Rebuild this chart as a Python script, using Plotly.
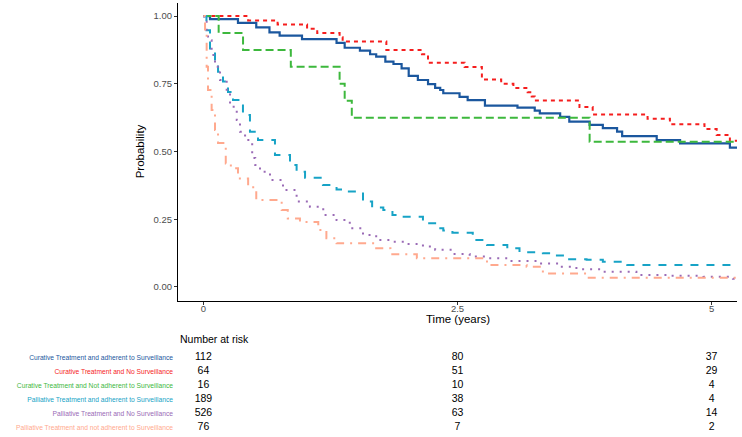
import plotly.graph_objects as go

# ---------------- data ----------------
groups = [
    "Curative Treatment and adherent to Surveillance",
    "Curative Treatment and No Surveillance",
    "Curative Treatment and Not adherent to Surveillance",
    "Palliative Treatment and adherent to Surveillance",
    "Palliative Treatment and No Surveillance",
    "Palliative Treatment and not adherent to Surveillance",
]

t_cur_adh = [0, 0.065, 0.34, 0.52, 0.65, 0.75, 0.97, 1.31, 1.39, 1.54, 1.64, 1.70, 1.79, 1.87, 1.95, 2.02,
             2.11, 2.21, 2.28, 2.33, 2.36, 2.52, 2.60, 2.77, 3.09, 3.26, 3.31, 3.51, 3.60, 3.80, 3.93,
             4.07, 4.12, 4.46, 4.69, 5.18, 5.30]
s_cur_adh = [1.0, 0.989, 0.975, 0.958, 0.940, 0.928, 0.915, 0.901, 0.883, 0.872, 0.859, 0.850, 0.832, 0.823,
             0.807, 0.779, 0.764, 0.749, 0.735, 0.727, 0.715, 0.702, 0.690, 0.669, 0.662, 0.651, 0.641,
             0.628, 0.610, 0.598, 0.586, 0.573, 0.557, 0.542, 0.530, 0.514, 0.514]

t_cur_no = [0, 0.44, 0.73, 1.02, 1.12, 1.34, 1.37, 1.80, 2.15, 2.21, 2.57, 2.74, 2.93, 3.05, 3.19, 3.23,
            3.26, 3.70, 3.83, 4.37, 4.59, 4.93, 5.05, 5.18, 5.30]
s_cur_no = [1.0, 0.984, 0.969, 0.953, 0.937, 0.922, 0.906, 0.875, 0.859, 0.828, 0.812, 0.766, 0.750, 0.734,
            0.719, 0.703, 0.688, 0.664, 0.637, 0.621, 0.601, 0.583, 0.561, 0.540, 0.540]

t_cur_notadh = [0, 0.15, 0.39, 0.86, 1.34, 1.39, 1.46, 3.80, 5.30]
s_cur_notadh = [1.0, 0.9375, 0.875, 0.8125, 0.75, 0.6875, 0.625, 0.536, 0.536]

t_pal_adh = [0, 0.03, 0.065, 0.114, 0.144, 0.193, 0.242, 0.291, 0.389, 0.458, 0.537, 0.704, 0.852, 0.917,
             1.0, 1.176, 1.31, 1.41, 1.57, 1.66, 1.77, 1.86, 1.96, 2.16, 2.28, 2.36, 2.45, 2.65, 2.79,
             2.99, 3.11, 3.34, 3.44, 3.58, 3.77, 3.93, 4.17, 5.30]
s_pal_adh = [1.0, 0.948, 0.875, 0.831, 0.794, 0.758, 0.720, 0.690, 0.635, 0.573, 0.542, 0.487, 0.450, 0.425,
             0.403, 0.376, 0.360, 0.352, 0.315, 0.293, 0.284, 0.266, 0.259, 0.235, 0.217, 0.208, 0.200,
             0.173, 0.155, 0.143, 0.128, 0.124, 0.116, 0.102, 0.100, 0.093, 0.081, 0.081]

t_pal_no = [0, 0.006, 0.032, 0.045, 0.081, 0.114, 0.163, 0.229, 0.262, 0.328, 0.36, 0.41, 0.48, 0.51, 0.557,
            0.655, 0.783, 0.917, 1.048, 1.179, 1.31, 1.44, 1.57, 1.70, 1.835, 2.0, 2.16, 2.28, 2.45, 2.62,
            2.79, 3.01, 3.28, 3.51, 3.67, 3.93, 4.26, 4.59, 4.92, 5.21, 5.30]
s_pal_no = [1.0, 0.985, 0.937, 0.911, 0.856, 0.813, 0.764, 0.715, 0.665, 0.616, 0.573, 0.542, 0.476, 0.450,
            0.425, 0.395, 0.358, 0.315, 0.296, 0.266, 0.247, 0.217, 0.192, 0.173, 0.167, 0.159, 0.149,
            0.137, 0.122, 0.112, 0.106, 0.096, 0.087, 0.075, 0.065, 0.056, 0.044, 0.041, 0.038, 0.030,
            0.030]

t_pal_notadh = [0, 0.016, 0.032, 0.045, 0.081, 0.114, 0.144, 0.22, 0.27, 0.34, 0.44, 0.52, 0.77, 0.83, 0.95,
                1.13, 1.21, 1.31, 1.70, 1.84, 2.10, 2.79, 3.18, 3.34, 3.77, 5.30]
s_pal_notadh = [1.0, 0.937, 0.813, 0.727, 0.653, 0.579, 0.531, 0.456, 0.438, 0.400, 0.368, 0.321, 0.284,
                0.253, 0.240, 0.210, 0.180, 0.161, 0.143, 0.121, 0.106, 0.081, 0.075, 0.050, 0.034, 0.034]

risk_times = [0, 2.5, 5]
risk_cur_adh = [112, 80, 37]
risk_cur_no = [64, 51, 29]
risk_cur_notadh = [16, 10, 4]
risk_pal_adh = [189, 38, 4]
risk_pal_no = [526, 63, 14]
risk_pal_notadh = [76, 7, 2]

x_ticks = [0, 2.5, 5]
x_tick_labels = ["0", "2.5", "5"]
y_ticks = [0, 0.25, 0.5, 0.75, 1.0]
y_tick_labels = ["0.00", "0.25", "0.50", "0.75", "1.00"]

# ---------------- styles ----------------
colors = ["#1B579E", "#F51E1E", "#3DB83D", "#17A3C6", "#9A6BB6", "#FFA98E"]
dashes = ["solid", "4px,4px", "8px,4px", "8px,8px", "2px,6px", "2px,6px,8px,6px"]
widths = [2.2, 2.0, 2.0, 2.0, 2.0, 2.0]

series_t = [t_cur_adh, t_cur_no, t_cur_notadh, t_pal_adh, t_pal_no, t_pal_notadh]
series_s = [s_cur_adh, s_cur_no, s_cur_notadh, s_pal_adh, s_pal_no, s_pal_notadh]
risks = [risk_cur_adh, risk_cur_no, risk_cur_notadh, risk_pal_adh, risk_pal_no, risk_pal_notadh]

FONT = "Liberation Sans, Arial, sans-serif"

fig = go.Figure()
for i in range(6):
    fig.add_trace(go.Scatter(
        x=series_t[i], y=series_s[i], mode="lines", line_shape="hv",
        line=dict(color=colors[i], width=widths[i], dash=dashes[i]),
        name=groups[i], showlegend=False, hoverinfo="skip",
        xaxis="x", yaxis="y",
    ))

# risk table
for i in range(6):
    fig.add_trace(go.Scatter(
        x=risk_times, y=[i + 1] * len(risk_times), mode="text",
        text=[str(v) for v in risks[i]],
        textfont=dict(family=FONT, size=10.5, color="black"),
        textposition="middle center", showlegend=False, hoverinfo="skip",
        xaxis="x2", yaxis="y2",
    ))

W, H = 742, 437
T, B = 2, 0
PH = H - T - B


def dom(top_px, bot_px):
    return [1 - (bot_px - T) / PH, 1 - (top_px - T) / PH]


def ypaper(px):
    return 1 - (px - T) / PH


xr = [-0.25, 5.25]
fig.update_layout(
    width=W, height=H,
    margin=dict(l=178, r=5, t=T, b=B),
    paper_bgcolor="white", plot_bgcolor="white",
    font=dict(family=FONT, color="black"),
    xaxis=dict(
        domain=[0, 1], range=xr, anchor="y",
        tickvals=x_ticks, ticktext=x_tick_labels,
        ticks="outside", ticklen=3, tickcolor="#333333", tickwidth=1,
        tickfont=dict(size=9.5, color="#4D4D4D", family=FONT),
        ticklabelstandoff=-4,
        showline=True, linecolor="black", linewidth=1.2,
        showgrid=False, zeroline=False,
    ),
    yaxis=dict(
        domain=dom(2.5, 300.5), range=[-0.05, 1.05], anchor="x",
        tickvals=y_ticks, ticktext=y_tick_labels,
        ticks="outside", ticklen=3, tickcolor="#333333", tickwidth=1,
        tickfont=dict(size=9.5, color="#4D4D4D", family=FONT),
        showline=True, linecolor="black", linewidth=1.2,
        showgrid=False, zeroline=False,
        title=dict(text="Probability", font=dict(size=11.5, color="black", family=FONT), standoff=6),
    ),
    xaxis2=dict(
        domain=[0, 1], range=xr, anchor="y2",
        showticklabels=False, showline=False, showgrid=False, zeroline=False, ticks="",
    ),
    yaxis2=dict(
        domain=dom(350.74, 434.26), range=[6.5, 0.5], anchor="x2",
        tickvals=[1, 2, 3, 4, 5, 6],
        ticktext=[f"<span style='color:{colors[i]}'>{groups[i]}</span>" for i in range(6)],
        tickfont=dict(size=6.7, family=FONT),
        ticks="", ticklabelstandoff=4,
        showline=False, showgrid=False, zeroline=False,
    ),
    annotations=[
        dict(
            text="Number at risk", xref="paper", yref="paper",
            x=0, y=ypaper(339), xanchor="left", yanchor="middle",
            showarrow=False, font=dict(size=10.5, color="black", family=FONT),
        ),
        dict(
            text="Time (years)", xref="paper", yref="paper",
            x=0.5, y=ypaper(319), xanchor="center", yanchor="middle",
            showarrow=False, font=dict(size=11.5, color="black", family=FONT),
        ),
    ],
)

fig.write_html(
    "out.html",
    config={"displayModeBar": False},
    post_script="document.body.style.margin='0px';document.body.style.overflow='hidden';",
)
